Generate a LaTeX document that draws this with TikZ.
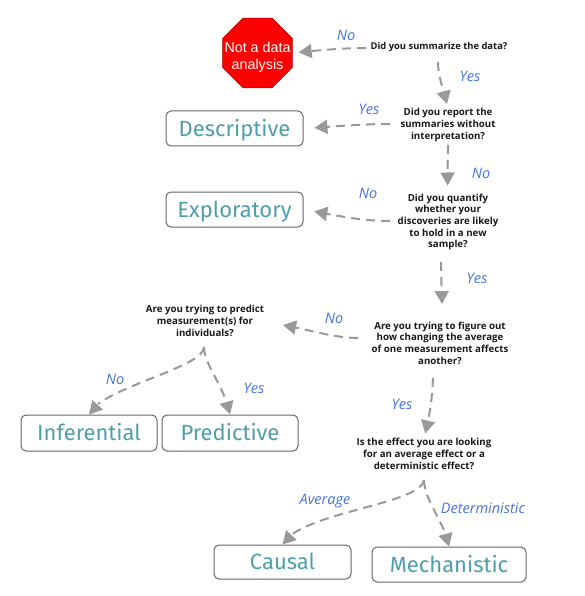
\documentclass[tikz,border=0pt]{standalone}
\usepackage{fontspec}
\setmainfont{Open Sans}
\newfontfamily\helv{Liberation Sans}
\newfontfamily\boxfont{Fira Sans}
\usetikzlibrary{arrows.meta,bending,shapes.geometric}
\definecolor{teal1}{HTML}{4F9FAA}
\definecolor{blue1}{HTML}{4575E2}
\definecolor{flowgray}{HTML}{999999}
\definecolor{boxline}{HTML}{666666}
\tikzset{
  result/.style={draw=boxline,line width=1pt,rounded corners=5pt,fill=white,inner sep=0pt,text=teal1,text height=15.5pt,text depth=0pt,font=\boxfont\fontsize{22}{26}\selectfont,anchor=center},
  question/.style={align=center,inner sep=0pt,font=\fontsize{9.7}{11.7}\selectfont\bfseries,text=black!90},
  answer/.style={text=blue1,inner sep=0pt,font=\fontsize{14.5}{16}\selectfont\itshape},
  flow/.style={draw=flowgray,line width=2pt,dash pattern=on 9pt off 6pt,-{Triangle[length=13pt,width=14pt]}},
}
\begin{document}
\begin{tikzpicture}[x=1pt,y=-1pt]
\useasboundingbox[fill=white] (0,0) rectangle (584,596);
\node[regular polygon,regular polygon sides=8,minimum size=75.5pt,inner sep=0pt,fill=red,draw=red!70!black,line width=.6pt,
  label={[yshift=-4pt,text=white,align=center,font=\helv\fontsize{14.3}{17}\selectfont]center:Not a data\\analysis}] (stop) at (257.5,53) {};
\node[result,minimum width=137pt,minimum height=35pt] (desc) at (234.5,128.5) {Descriptive};
\node[result,minimum width=137pt,minimum height=35pt] (expl) at (234.5,209.5) {Exploratory};
\node[result,minimum width=136pt,minimum height=36pt] (infer) at (89,433) {Inferential};
\node[result,minimum width=136pt,minimum height=36pt] (pred) at (230,433) {Predictive};
\node[result,minimum width=137pt,minimum height=34pt] (caus) at (282.5,562) {Causal};
\node[result,minimum width=154pt,minimum height=35pt] (mech) at (449,564.5) {Mechanistic};

\node[question,font=\fontsize{9.4}{11.7}\selectfont\bfseries] (q1) at (439,47) {Did you summarize the data?};
\node[question] (q2) at (448,125) {Did you report the\\summaries without\\interpretation?};
\node[question] (q3) at (448,222) {Did you quantify\\whether your\\discoveries are likely\\to hold in a new\\sample?};
\node[question] (q4) at (440,343) {Are you trying to figure out\\how changing the average\\of one measurement affects\\another?};
\node[question] (q5) at (205,321) {Are you trying to predict\\measurement(s) for\\individuals?};
\node[question] (q6) at (424,454) {Is the effect you are looking\\for an average effect or a\\deterministic effect?};

\coordinate (j5) at (204,347);
\coordinate (j6) at (424,480);
\coordinate (s1) at (366,48);
\coordinate (s1b) at (438,62);
\coordinate (s2) at (390,124);
\coordinate (s2b) at (448,145);
\coordinate (s3) at (390,221);
\coordinate (s3b) at (441,262);
\coordinate (s4) at (358,338);
\coordinate (s4b) at (433,378);
\coordinate (t4) at (283,325);
\coordinate (t3) at (447,104);
\coordinate (t5) at (442,304);

\draw[flow,shorten >=6pt] (s1) .. controls (345,48) and (320,50) .. (stop.east);
\draw[flow] (s1b) .. controls (438,78) and (444,90) .. (t3);
\draw[flow,shorten >=11pt] (s2) .. controls (365,124) and (340,126) .. (desc.east);
\draw[flow,shorten >=8pt] (s2b) .. controls (448,160) and (447,172) .. (q3.north);
\draw[flow,shorten >=11pt] (s3) .. controls (360,221) and (340,216) .. (expl.east);
\draw[flow] (s3b) .. controls (441,280) and (442,290) .. (t5);
\draw[flow] (s4) .. controls (335,338) and (310,330) .. (t4);
\draw[flow,shorten >=5pt] (s4b) .. controls (432,400) and (430,415) .. (q6.north);
\draw[flow] (j5) .. controls (204,368) and (100,388) .. (infer.north);
\draw[flow] (j5) .. controls (204,365) and (224,385) .. (pred.north);
\draw[flow] (j6) .. controls (420,505) and (300,512) .. (caus.north);
\draw[flow] (j6) .. controls (424,500) and (446,525) .. (mech.north);

\node[answer] (a1) at (346,35) {No};
\node[answer] (a2) at (470,76) {Yes};
\node[answer] (a3) at (369,109) {Yes};
\node[answer] (a4) at (481,173) {No};
\node[answer] (a5) at (368,193) {No};
\node[answer] (a6) at (477,278) {Yes};
\node[answer] (a7) at (334,318) {No};
\node[answer] (a8) at (115,379) {No};
\node[answer] (a9) at (254,388) {Yes};
\node[answer] (a10) at (402,404) {Yes};
\node[answer] (a11) at (325,501) {Average};
\node[answer] (a12) at (483,508) {Deterministic};
\end{tikzpicture}
\end{document}
